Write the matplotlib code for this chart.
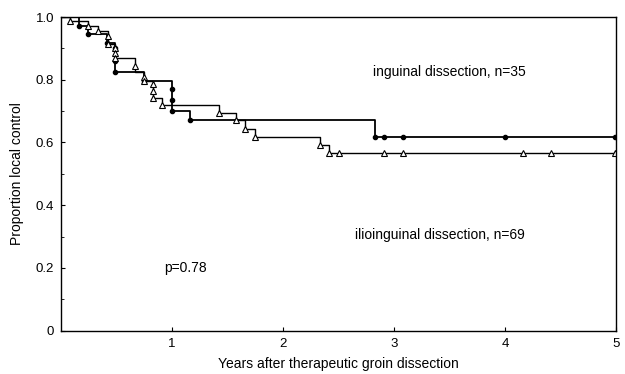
import matplotlib
matplotlib.use('Agg')
import matplotlib.pyplot as plt
from matplotlib.ticker import MultipleLocator, FixedLocator

plt.rcParams['font.family'] = ['Liberation Sans', 'DejaVu Sans']

# Kaplan-Meier steps, inguinal dissection (n=35), filled dots
ing_t = [0, 0.165, 0.246, 0.41, 0.49, 0.745, 0.997, 1.16, 2.83]
ing_s = [1.0, 0.972, 0.945, 0.916, 0.825, 0.797, 0.70, 0.673, 0.618]
ing_mark_t = [0.165, 0.246, 0.41, 0.49, 0.49, 0.49, 0.745, 0.997, 0.997, 0.997,
              1.16, 2.83, 2.91, 3.08, 4.0, 4.99]
ing_mark_s = [0.972, 0.945, 0.916, 0.90, 0.86, 0.825, 0.797, 0.77, 0.735, 0.70,
              0.673, 0.618, 0.618, 0.618, 0.618, 0.618]

# ilioinguinal dissection (n=69), open triangles
ilio_t = [0, 0.08, 0.246, 0.336, 0.42, 0.49, 0.667, 0.745, 0.83, 0.91,
          1.42, 1.58, 1.66, 1.75, 2.33, 2.41]
ilio_s = [1.0, 0.986, 0.972, 0.957, 0.913, 0.868, 0.826, 0.797, 0.742, 0.719,
          0.694, 0.671, 0.644, 0.618, 0.592, 0.566]
ilio_mark_t = [0.08, 0.246, 0.336, 0.42, 0.42, 0.49, 0.49, 0.49, 0.667, 0.745,
               0.745, 0.83, 0.83, 0.83, 0.91, 1.42, 1.58, 1.66, 1.75, 2.33,
               2.41, 2.50, 2.91, 3.08, 4.16, 4.41, 4.99]
ilio_mark_s = [0.986, 0.972, 0.957, 0.94, 0.913, 0.90, 0.885, 0.868, 0.843, 0.81,
               0.797, 0.785, 0.765, 0.742, 0.719, 0.694, 0.671, 0.644, 0.618, 0.592,
               0.566, 0.566, 0.566, 0.566, 0.566, 0.566, 0.566]

x_max = 5.0
x_ticks = [1, 2, 3, 4, 5]
y_ticks = [0, 0.2, 0.4, 0.6, 0.8, 1.0]
y_labels = ['0', '0.2', '0.4', '0.6', '0.8', '1.0']

fig = plt.figure(figsize=(6.25, 3.74), dpi=100)
ax = fig.add_axes([0.0976, 0.116, 0.888, 0.8385])

ax.step(ing_t + [x_max], ing_s + [ing_s[-1]], where='post', color='black', lw=1.3)
ax.step(ilio_t + [x_max], ilio_s + [ilio_s[-1]], where='post', color='black', lw=1.0)
ax.plot(ing_mark_t, ing_mark_s, 'o', ms=3, color='black', ls='none')
ax.plot(ilio_mark_t, ilio_mark_s, '^', ms=4, mfc='white', mec='black', mew=0.8, ls='none')

ax.set_xlim(0, x_max)
ax.set_ylim(0, 1.0)
ax.xaxis.set_major_locator(FixedLocator(x_ticks))
ax.set_xticklabels([str(v) for v in x_ticks])
ax.yaxis.set_major_locator(FixedLocator(y_ticks))
ax.set_yticklabels(y_labels)
ax.yaxis.set_minor_locator(MultipleLocator(0.1))
ax.tick_params(direction='in', length=3, width=0.8, labelsize=9.5, pad=5)
ax.tick_params(which='minor', direction='in', length=2, width=0.6)
for sp in ax.spines.values():
    sp.set_linewidth(1.0)

ax.text(2.81, 0.825, 'inguinal dissection, n=35', fontsize=10, va='center')
ax.text(2.65, 0.305, 'ilioinguinal dissection, n=69', fontsize=10, va='center')
ax.text(0.93, 0.20, 'p=0.78', fontsize=10, va='center')

ax.set_xlabel('Years after therapeutic groin dissection', fontsize=10, labelpad=5)
ax.set_ylabel('Proportion local control', fontsize=10, labelpad=8)

fig.savefig('out.png', dpi=100)
